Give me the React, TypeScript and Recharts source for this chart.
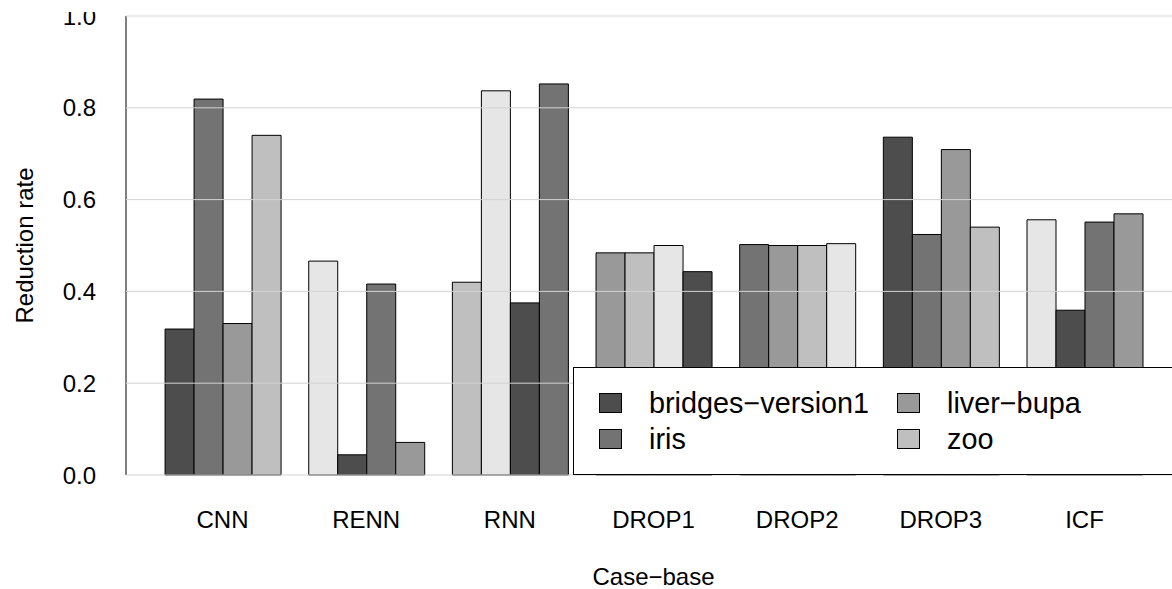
import { BarChart, Bar, Cell, XAxis, YAxis, CartesianGrid, Legend } from "recharts"

const categories = ["CNN", "RENN", "RNN", "DROP1", "DROP2", "DROP3", "ICF"]
const bridges = [0.318, 0.466, 0.42, 0.484, 0.502, 0.736, 0.556]
const iris = [0.819, 0.044, 0.837, 0.484, 0.5, 0.524, 0.359]
const liverBupa = [0.33, 0.416, 0.375, 0.5, 0.5, 0.709, 0.551]
const zoo = [0.74, 0.071, 0.852, 0.443, 0.504, 0.54, 0.569]
const yTicks = [0, 0.2, 0.4, 0.6, 0.8, 1.0]

// five grays, recycled bar by bar across the whole plot
const grays = ["#4d4d4d", "#737373", "#999999", "#bfbfbf", "#e6e6e6"]

const series = [
  { key: "bridges", name: "bridges−version1", values: bridges },
  { key: "iris", name: "iris", values: iris },
  { key: "liverBupa", name: "liver−bupa", values: liverBupa },
  { key: "zoo", name: "zoo", values: zoo },
]

const data = categories.map((name, i) => {
  const row: Record<string, string | number> = { name }
  series.forEach((s) => (row[s.key] = s.values[i]))
  return row
})

const font = '"Liberation Sans", Arial, sans-serif'

function LegendBox({ payload }: any) {
  const items = payload ?? []
  return (
    <svg width={608} height={108} style={{ display: "block" }}>
      <rect x={0.5} y={0.5} width={620} height={107} fill="#fff" stroke="#000" />
      {items.map((p: any, i: number) => {
        const sx = i < 2 ? 26 : 324
        const sy = i % 2 === 0 ? 26 : 62
        return (
          <g key={p.value}>
            <rect x={sx + 0.5} y={sy + 0.5} width={22} height={19} fill={p.color} stroke="#000" />
            <text x={sx + 50} y={sy + 20} fontSize={28.8} fill="#000" fontFamily={font}>
              {p.value}
            </text>
          </g>
        )
      })}
    </svg>
  )
}

function YTitle({ viewBox }: any) {
  const x = viewBox.x + 33
  const y = viewBox.y + viewBox.height / 2
  return (
    <text x={x} y={y} transform={`rotate(-90, ${x}, ${y})`} textAnchor="middle" fontSize={24} fill="#000">
      Reduction rate
    </text>
  )
}

function XTitle({ viewBox }: any) {
  return (
    <text x={viewBox.x + viewBox.width / 2} y={viewBox.y + 110} textAnchor="middle" fontSize={24} fill="#000">
      Case−base
    </text>
  )
}

export default function App() {
  return (
    <div
      style={{
        position: "absolute",
        left: 0,
        top: 12,
        width: 1172,
        height: 577,
        overflow: "hidden",
        background: "#fff",
        fontFamily: font,
      }}
    >
      <div style={{ marginTop: -12 }}>
        <BarChart
          width={1200}
          height={589}
          data={data}
          margin={{ top: 16, right: 19, bottom: 0, left: 0 }}
          barCategoryGap="10%"
          barGap={0}
        >
          <XAxis
            dataKey="name"
            height={114}
            padding={{ left: 24.7, right: 24.7 }}
            axisLine={false}
            tickLine={false}
            tickSize={0}
            tickMargin={36}
            interval={0}
            tick={{ fontSize: 24, fill: "#000" }}
            label={XTitle}
          />
          <YAxis
            type="number"
            domain={[0, 1]}
            ticks={yTicks}
            width={126}
            tickFormatter={(v: number) => v.toFixed(1)}
            axisLine={{ stroke: "#000" }}
            tickLine={false}
            tickSize={0}
            tickMargin={30}
            tick={{ fontSize: 24, fill: "#000" }}
            label={YTitle}
          />
          {series.map((s, si) => (
            <Bar
              key={s.key}
              dataKey={s.key}
              name={s.name}
              fill={grays[si]}
              stroke="#000"
              strokeWidth={1}
              isAnimationActive={false}
            >
              {categories.map((c, ci) => (
                <Cell key={c} fill={grays[(ci * series.length + si) % grays.length]} />
              ))}
            </Bar>
          ))}
          <CartesianGrid horizontal vertical={false} stroke="#d3d3d3" zIndex={500} />
          <Legend
            layout="vertical"
            align="center"
            verticalAlign="middle"
            content={LegendBox}
            wrapperStyle={{ position: "absolute", left: 573, top: 367, width: 608, height: 108 }}
          />
        </BarChart>
      </div>
    </div>
  )
}
